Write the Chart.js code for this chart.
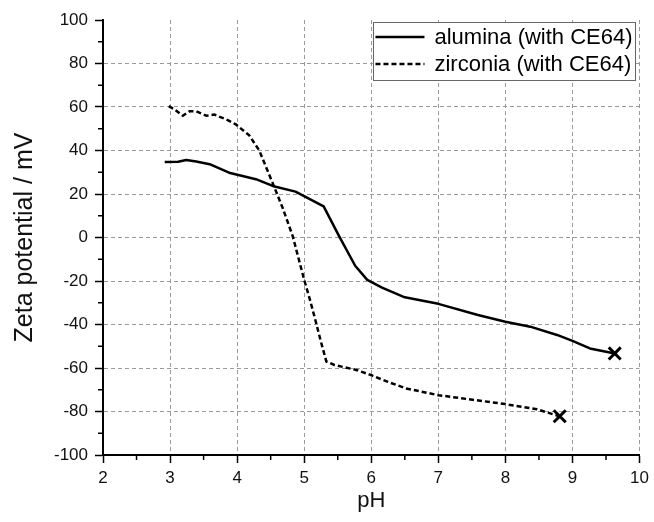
<!DOCTYPE html>
<html><head><meta charset="utf-8">
<script src="https://cdn.jsdelivr.net/npm/chart.js@4/dist/chart.umd.min.js"></script>
<style>html,body{margin:0;padding:0;background:#fff}#wrap{width:654px;height:522px}</style>
</head><body><div id="wrap"><canvas id="c" width="654" height="522"></canvas></div>
<script>
// ---- data ----
const aluminaPH   = [2.92, 3.12, 3.24, 3.39, 3.59, 3.88, 4.28, 4.53, 4.87, 5.29, 5.52, 5.76, 5.94, 6.16, 6.50, 7.00, 7.59, 8.00, 8.37, 8.77, 9.00, 9.26, 9.63];
const aluminaZeta = [34.7, 34.8, 35.6, 34.9, 33.7, 29.8, 26.8, 23.7, 21.1, 14.3, 0.6, -13.0, -19.5, -23.0, -27.5, -30.5, -35.6, -38.7, -41.0, -44.8, -47.5, -51.0, -53.3];
const zirconiaPH   = [2.98, 3.07, 3.19, 3.29, 3.39, 3.54, 3.66, 3.86, 3.98, 4.18, 4.33, 4.53, 4.68, 4.83, 5.00, 5.08, 5.15, 5.25, 5.33, 5.45, 5.79, 6.00, 6.25, 6.52, 7.00, 8.00, 8.47, 8.81];
const zirconiaZeta = [60.4, 58.8, 56.0, 58.0, 58.0, 56.0, 56.5, 54.0, 52.0, 47.0, 40.0, 25.0, 13.5, 0.5, -19.5, -28.0, -36.0, -48.0, -57.0, -58.6, -61.0, -63.3, -66.4, -69.4, -72.5, -76.6, -79.0, -82.2];
const seriesNames = ['alumina (with CE64)', 'zirconia (with CE64)'];
const xAxisTitle = 'pH';
const yAxisTitle = 'Zeta potential / mV';
const xRange = [2, 10], xMajor = 1, xMinor = 0.5;
const yRange = [-100, 100], yMajor = 20, yMinor = 10;

const FONT = '"Liberation Sans", Arial, Helvetica, sans-serif';
Chart.defaults.font.family = FONT;
Chart.defaults.color = '#111';

function pts(xs, ys) { return xs.map((x, i) => ({x, y: ys[i]})); }
function isMajor(v, step) { return Math.abs(v / step - Math.round(v / step)) < 1e-6; }

const minorTicks = {
  id: 'minorTicks',
  afterDraw(chart) {
    const ctx = chart.ctx, ca = chart.chartArea;
    ctx.save();
    ctx.strokeStyle = '#000'; ctx.lineWidth = 1.5;
    const ys = chart.scales.y, xs = chart.scales.x;
    ys.ticks.forEach((t, i) => {
      if (isMajor(t.value, yMajor)) return;
      const p = ys.getPixelForTick(i);
      ctx.beginPath(); ctx.moveTo(ca.left - 5, p); ctx.lineTo(ca.left, p); ctx.stroke();
    });
    xs.ticks.forEach((t, i) => {
      if (isMajor(t.value, xMajor)) return;
      const p = xs.getPixelForTick(i);
      ctx.beginPath(); ctx.moveTo(p, ca.bottom); ctx.lineTo(p, ca.bottom + 5); ctx.stroke();
    });
    ctx.restore();
  }
};

const boxLegend = {
  id: 'boxLegend',
  afterDatasetsDraw(chart) {
    const ctx = chart.ctx, ca = chart.chartArea;
    ctx.save();
    ctx.font = '22px ' + FONT;
    const items = chart.data.datasets;
    const lineStart = 2, lineLen = 49, textOff = 61, rowH = 27;
    const textW = Math.max(...items.map(d => ctx.measureText(d.label).width));
    const w = textOff + textW + 3;
    const h = rowH * items.length + 4;
    const right = ca.right - 4, top = ca.top + 2, left = right - w;
    ctx.fillStyle = '#fff'; ctx.fillRect(left, top, w, h);
    ctx.strokeStyle = '#666'; ctx.lineWidth = 1; ctx.strokeRect(Math.round(left) + 0.5, top + 0.5, Math.round(w), h);
    items.forEach((d, i) => {
      const cy = top + 15 + i * rowH;
      ctx.strokeStyle = d.borderColor; ctx.lineWidth = d.borderWidth; ctx.setLineDash(d.borderDash || []);
      ctx.beginPath(); ctx.moveTo(left + lineStart, cy); ctx.lineTo(left + lineStart + lineLen, cy); ctx.stroke();
      ctx.setLineDash([]);
      ctx.fillStyle = '#000'; ctx.textBaseline = 'middle'; ctx.textAlign = 'left';
      ctx.fillText(d.label, left + textOff, cy + 1);
    });
    ctx.restore();
  }
};

function lastOnly(r) { return ctx => ctx.dataIndex === ctx.dataset.data.length - 1 ? r : 0; }

new Chart(document.getElementById('c'), {
  type: 'scatter',
  data: {
    datasets: [
      { label: seriesNames[0], data: pts(aluminaPH, aluminaZeta), showLine: true,
        borderColor: '#000', backgroundColor: '#000', borderWidth: 2.5, borderDash: [],
        borderJoinStyle: 'round', pointStyle: 'crossRot', pointRadius: lastOnly(8.5),
        pointHoverRadius: lastOnly(8.5), pointBorderWidth: 3, pointBorderColor: '#000', tension: 0 },
      { label: seriesNames[1], data: pts(zirconiaPH, zirconiaZeta), showLine: true,
        borderColor: '#000', backgroundColor: '#000', borderWidth: 2.5, borderDash: [5, 3],
        pointStyle: 'crossRot', pointRadius: lastOnly(8.5),
        pointHoverRadius: lastOnly(8.5), pointBorderWidth: 3, pointBorderColor: '#000', tension: 0 }
    ]
  },
  options: {
    responsive: false, animation: false, devicePixelRatio: 1,
    layout: { padding: { left: 6, top: 20, right: 11, bottom: 4 } },
    plugins: { legend: { display: false }, tooltip: { enabled: false } },
    scales: {
      x: {
        type: 'linear', min: xRange[0], max: xRange[1],
        afterFit(s) { s.height = 63; },
        ticks: { stepSize: xMinor, autoSkip: false, maxRotation: 0, padding: 5,
                 font: { size: 17 }, color: '#111',
                 callback: v => isMajor(v, xMajor) ? String(v) : '' },
        grid: { color: c => (c.tick && isMajor(c.tick.value, xMajor)) ? '#9a9a9a' : 'rgba(0,0,0,0)',
                lineWidth: 1, tickLength: 8, tickWidth: 1.5,
                tickColor: c => (c.tick && isMajor(c.tick.value, xMajor)) ? '#000' : 'rgba(0,0,0,0)' },
        border: { display: true, color: '#000', width: 2, dash: [4, 3] },
        title: { display: true, text: xAxisTitle, font: { size: 22 }, color: '#111', padding: { top: 4, bottom: 4 } }
      },
      y: {
        type: 'linear', min: yRange[0], max: yRange[1],
        afterFit(s) { s.width = 97; },
        ticks: { stepSize: yMinor, autoSkip: false, padding: 7,
                 font: { size: 17 }, color: '#111',
                 callback: v => isMajor(v, yMajor) ? String(v) : '' },
        grid: { color: c => (c.tick && isMajor(c.tick.value, yMajor) && c.tick.value !== yRange[1]) ? '#9a9a9a' : 'rgba(0,0,0,0)',
                lineWidth: 1, tickLength: 8, tickWidth: 1.5,
                tickColor: c => (c.tick && isMajor(c.tick.value, yMajor)) ? '#000' : 'rgba(0,0,0,0)' },
        border: { display: true, color: '#000', width: 2, dash: [4, 3] },
        title: { display: true, text: yAxisTitle, font: { size: 25 }, color: '#111', padding: { top: 4, bottom: 4 } }
      }
    }
  },
  plugins: [minorTicks, boxLegend]
});
</script></body></html>
